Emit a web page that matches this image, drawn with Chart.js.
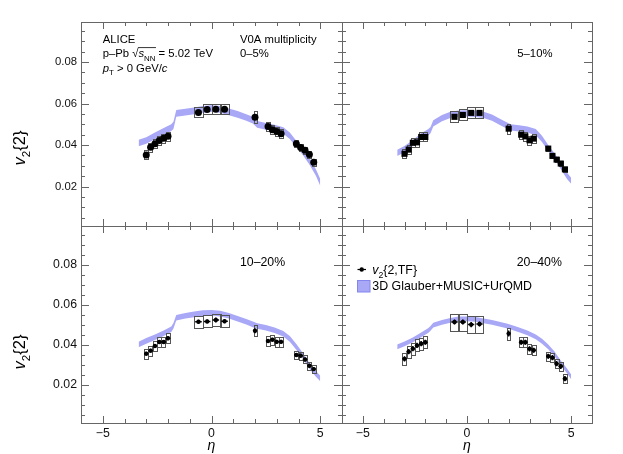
<!DOCTYPE html>
<html lang="en">
<head>
<meta charset="UTF-8" />
<title>v2{2} vs eta, p-Pb 5.02 TeV</title>
<script src="https://cdn.jsdelivr.net/npm/chart.js"></script>
<style>
    body { margin: 0; background: #fff; }
    #wrap { position: relative; width: 623px; height: 454px; }
    #wrap canvas { position: absolute; left: 0; top: 0; }
</style>
</head>
<body>
<div id="wrap">
    <canvas id="c010" width="623" height="454"></canvas>
    <canvas id="c510" width="623" height="454"></canvas>
    <canvas id="c1020" width="623" height="454"></canvas>
    <canvas id="c2040" width="623" height="454"></canvas>
</div>

<script>
// ---- data ----
const xTicks = [-5, 0, 5];
const yTicks = [0.02, 0.04, 0.06, 0.08];

// measured points (FMD / TPC / SPD / FMD)
const eta    = [-3.0, -2.8, -2.6, -2.4, -2.2, -2.0, -0.6, -0.2, 0.2, 0.6, 2.0, 2.6, 2.8, 3.0, 3.2, 3.9, 4.1, 4.3, 4.5, 4.7];
const etaBin = [0.1, 0.1, 0.1, 0.1, 0.1, 0.1, 0.2, 0.2, 0.2, 0.2, 0.06, 0.1, 0.1, 0.1, 0.1, 0.1, 0.1, 0.1, 0.1, 0.1];
const etaErr = [0.1, 0.1, 0.1, 0.1, 0.1, 0.1, 0.15, 0.15, 0.15, 0.15, 0.06, 0.1, 0.1, 0.1, 0.1, 0.1, 0.1, 0.1, 0.1, 0.1];

const v2_0_5   = [0.0352, 0.0389, 0.0406, 0.0422, 0.0433, 0.0443, 0.0557, 0.0571, 0.0573, 0.0573, 0.0534, 0.0490, 0.0474, 0.0465, 0.0455, 0.0406, 0.0388, 0.0375, 0.0354, 0.0317];
const sys_0_5  = [0.0022, 0.0022, 0.0022, 0.0022, 0.0022, 0.0022, 0.0025, 0.0025, 0.0025, 0.0025, 0.0028, 0.0022, 0.0022, 0.0022, 0.0022, 0.0018, 0.0018, 0.0018, 0.0018, 0.0018];

const v2_5_10  = [0.0358, 0.0378, 0.0411, 0.0413, 0.0439, 0.0439, 0.0536, 0.0545, 0.0555, 0.0555, 0.0479, 0.0450, 0.0442, 0.0423, 0.0431, 0.0383, 0.0348, 0.0330, 0.0311, 0.0283];
const sys_5_10 = [0.0022, 0.0022, 0.0022, 0.0022, 0.0022, 0.0022, 0.0027, 0.0027, 0.0027, 0.0027, 0.0023, 0.0022, 0.0022, 0.0022, 0.0022, 0.0012, 0.0012, 0.0012, 0.0012, 0.0012];

const v2_10_20   = [0.0356, 0.0371, 0.0394, 0.0414, 0.0414, 0.0433, 0.0515, 0.0517, 0.0524, 0.0518, 0.0470, 0.0419, 0.0426, 0.0415, 0.0415, 0.0349, 0.0346, 0.0327, 0.0296, 0.0279];
const sys_10_20  = [0.0025, 0.0025, 0.0025, 0.0025, 0.0025, 0.0025, 0.0030, 0.0030, 0.0030, 0.0030, 0.0027, 0.0024, 0.0024, 0.0024, 0.0024, 0.0020, 0.0020, 0.0020, 0.0020, 0.0020];
const stat_10_20 = [0.0010, 0.0010, 0.0010, 0.0010, 0.0010, 0.0010, 0.0010, 0.0010, 0.0012, 0.0010, 0.0012, 0.0010, 0.0010, 0.0010, 0.0010, 0.0010, 0.0010, 0.0010, 0.0010, 0.0010];

const v2_20_40   = [0.0330, 0.0366, 0.0381, 0.0397, 0.0406, 0.0413, 0.0514, 0.0514, 0.0501, 0.0504, 0.0456, 0.0413, 0.0413, 0.0380, 0.0373, 0.0343, 0.0336, 0.0306, 0.0293, 0.0231];
const sys_20_40  = [0.0030, 0.0030, 0.0030, 0.0030, 0.0030, 0.0030, 0.0042, 0.0042, 0.0042, 0.0042, 0.0030, 0.0025, 0.0025, 0.0025, 0.0025, 0.0022, 0.0022, 0.0022, 0.0022, 0.0022];
const stat_20_40 = [0.0013, 0.0013, 0.0013, 0.0013, 0.0013, 0.0013, 0.0013, 0.0013, 0.0013, 0.0013, 0.0015, 0.0013, 0.0013, 0.0013, 0.0013, 0.0013, 0.0013, 0.0013, 0.0013, 0.0013];

// 3D Glauber+MUSIC+UrQMD band (lower / upper edge)
const bandEta = [-3.35, -3.0, -2.6, -2.2, -1.85, -1.75, -1.62, -1.2, -0.8, -0.4, 0, 0.4, 0.8, 1.2, 1.6, 1.9, 2.1, 2.5, 2.9, 3.3, 3.6, 3.9, 4.2, 4.5, 4.8, 5.0];
const bandLo_0_5   = [0.0394, 0.0406, 0.0428, 0.0450, 0.0468, 0.0478, 0.0537, 0.0543, 0.0549, 0.0556, 0.0560, 0.0556, 0.0544, 0.0532, 0.0517, 0.0504, 0.0484, 0.0474, 0.0466, 0.0454, 0.0429, 0.0389, 0.0352, 0.0306, 0.0252, 0.0204];
const bandHi_0_5   = [0.0426, 0.0438, 0.0460, 0.0482, 0.0500, 0.0512, 0.0569, 0.0575, 0.0581, 0.0588, 0.0592, 0.0588, 0.0576, 0.0564, 0.0549, 0.0536, 0.0516, 0.0506, 0.0498, 0.0486, 0.0461, 0.0421, 0.0384, 0.0338, 0.0284, 0.0236];
const bandLo_5_10  = [0.0347, 0.0365, 0.0395, 0.0427, 0.0447, 0.0457, 0.0490, 0.0515, 0.0530, 0.0537, 0.0538, 0.0535, 0.0530, 0.0517, 0.0495, 0.0480, 0.0470, 0.0465, 0.0460, 0.0447, 0.0415, 0.0370, 0.0330, 0.0285, 0.0237, 0.0213];
const bandHi_5_10  = [0.0377, 0.0395, 0.0425, 0.0457, 0.0477, 0.0487, 0.0520, 0.0545, 0.0560, 0.0567, 0.0568, 0.0565, 0.0560, 0.0547, 0.0525, 0.0510, 0.0500, 0.0495, 0.0490, 0.0477, 0.0445, 0.0400, 0.0360, 0.0315, 0.0267, 0.0243];
const bandLo_10_20 = [0.0388, 0.0406, 0.0424, 0.0444, 0.0464, 0.0481, 0.0521, 0.0531, 0.0538, 0.0544, 0.0546, 0.0542, 0.0531, 0.0516, 0.0501, 0.0488, 0.0480, 0.0471, 0.0459, 0.0441, 0.0416, 0.0376, 0.0331, 0.0281, 0.0241, 0.0218];
const bandHi_10_20 = [0.0416, 0.0434, 0.0452, 0.0472, 0.0492, 0.0509, 0.0549, 0.0559, 0.0566, 0.0572, 0.0574, 0.0570, 0.0559, 0.0544, 0.0529, 0.0516, 0.0508, 0.0499, 0.0487, 0.0469, 0.0444, 0.0404, 0.0359, 0.0309, 0.0269, 0.0246];
const bandLo_20_40 = [0.0378, 0.0393, 0.0413, 0.0438, 0.0460, 0.0470, 0.0486, 0.0500, 0.0510, 0.0518, 0.0518, 0.0515, 0.0508, 0.0500, 0.0490, 0.0483, 0.0476, 0.0463, 0.0448, 0.0428, 0.0406, 0.0378, 0.0343, 0.0298, 0.0258, 0.0228];
const bandHi_20_40 = [0.0402, 0.0417, 0.0437, 0.0462, 0.0484, 0.0494, 0.0510, 0.0524, 0.0534, 0.0542, 0.0542, 0.0539, 0.0532, 0.0524, 0.0514, 0.0507, 0.0500, 0.0487, 0.0472, 0.0452, 0.0430, 0.0402, 0.0367, 0.0322, 0.0282, 0.0252];

// ---- style ----
const FONT = '"Liberation Sans", Arial, Helvetica, sans-serif';
const AXIS = '#666';
const BAND = 'rgb(168,168,247)';
const Y_MIN = 0.001, Y_MAX = 0.0993;

// draw a run of text pieces: [text, flags] with 'i' italic, 's' subscript
function rich(ctx, x, y, parts, size, dry) {
    let cx = x;
    for (const [t, f] of parts) {
        const sub = f && f.includes('s');
        const it = f && f.includes('i');
        ctx.font = (it ? 'italic ' : '') + (sub ? size * 0.7 : size).toFixed(1) + 'px ' + FONT;
        if (!dry) ctx.fillText(t, cx, sub ? y + size * 0.3 : y);
        cx += ctx.measureText(t).width;
    }
    return cx;
}

function yTitle(ctx, cy) {
    const parts = [['v', 'i'], ['2', 's'], ['{2}']];
    ctx.save();
    ctx.translate(25, cy);
    ctx.rotate(-Math.PI / 2);
    const w = rich(ctx, 0, 0, parts, 16.5, true);
    rich(ctx, -w / 2, 0, parts, 16.5);
    ctx.restore();
}

function etaTitle(chart) {
    const ctx = chart.ctx;
    ctx.font = 'italic 14px ' + FONT;
    ctx.textAlign = 'center';
    ctx.fillText('\u03B7', chart.scales.x.getPixelForValue(0), 450);
    ctx.textAlign = 'left';
}

// frame with inward ticks on all four sides
const framePlugin = {
    id: 'frame',
    afterDraw(chart) {
        const { ctx, chartArea: a, scales: { x, y } } = chart;
        ctx.save();
        ctx.strokeStyle = AXIS;
        ctx.lineWidth = 1;
        ctx.strokeRect(a.left + 0.5, a.top + 0.5, a.right - a.left, a.bottom - a.top);
        ctx.beginPath();
        for (let t = -6; t <= 6; t++) {
            const px = Math.round(x.getPixelForValue(t)) + 0.5;
            const len = xTicks.includes(t) ? 7 : 4;
            ctx.moveTo(px, a.bottom); ctx.lineTo(px, a.bottom - len);
            ctx.moveTo(px, a.top); ctx.lineTo(px, a.top + len);
        }
        for (let k = 1; k <= 19; k++) {
            const v = k * 0.005;
            const py = Math.round(y.getPixelForValue(v)) + 0.5;
            const len = yTicks.some(t => Math.abs(t - v) < 1e-6) ? 8 : 4;
            ctx.moveTo(a.left, py); ctx.lineTo(a.left + len, py);
            ctx.moveTo(a.right, py); ctx.lineTo(a.right - len, py);
        }
        ctx.stroke();
        ctx.restore();
    }
};

// systematic boxes and statistical bars, drawn just before the markers
function errorPlugin(p) {
    return {
        id: 'errors',
        beforeDatasetDraw(chart, args) {
            if (args.index !== 0) return;
            const { ctx, scales: { x, y } } = chart;
            ctx.save();
            ctx.strokeStyle = '#555';
            ctx.lineWidth = 1;
            eta.forEach((e, i) => {
                const x0 = x.getPixelForValue(e - etaBin[i]), x1 = x.getPixelForValue(e + etaBin[i]);
                const y0 = y.getPixelForValue(p.v2[i] + p.sys[i]), y1 = y.getPixelForValue(p.v2[i] - p.sys[i]);
                ctx.strokeRect(Math.round(x0) + 0.5, Math.round(y0) + 0.5, Math.round(x1 - x0), Math.round(y1 - y0));
            });
            if (p.stat) {
                ctx.strokeStyle = '#000';
                ctx.lineWidth = 1.5;
                ctx.beginPath();
                eta.forEach((e, i) => {
                    const px = x.getPixelForValue(e), py = y.getPixelForValue(p.v2[i]);
                    ctx.moveTo(x.getPixelForValue(e - etaErr[i]), py);
                    ctx.lineTo(x.getPixelForValue(e + etaErr[i]), py);
                    ctx.moveTo(px, y.getPixelForValue(p.v2[i] + p.stat[i]));
                    ctx.lineTo(px, y.getPixelForValue(p.v2[i] - p.stat[i]));
                });
                ctx.stroke();
            }
            ctx.restore();
        }
    };
}

function textPlugin(fn) {
    return {
        id: 'texts',
        afterDraw(chart) {
            const ctx = chart.ctx;
            ctx.save();
            ctx.fillStyle = '#000';
            ctx.textBaseline = 'alphabetic';
            fn(ctx, chart);
            ctx.restore();
        }
    };
}

function makePanel(id, p) {
    const tickFont = { family: FONT, size: p.fs };
    new Chart(document.getElementById(id), {
        type: 'scatter',
        data: {
            datasets: [
                {
                    data: eta.map((e, i) => ({ x: e, y: p.v2[i] })),
                    pointStyle: p.marker, pointRadius: p.r, pointHoverRadius: p.r,
                    pointBackgroundColor: '#000', pointBorderWidth: 0, order: 0
                },
                {
                    type: 'line', data: bandEta.map((e, i) => ({ x: e, y: p.lo[i] })),
                    borderColor: 'rgba(0,0,0,0)', borderWidth: 0, pointRadius: 0, fill: false, order: 2
                },
                {
                    type: 'line', data: bandEta.map((e, i) => ({ x: e, y: p.hi[i] })),
                    borderColor: 'rgba(0,0,0,0)', borderWidth: 0, pointRadius: 0,
                    fill: '-1', backgroundColor: BAND, order: 1
                }
            ]
        },
        options: {
            responsive: false,
            animation: false,
            events: [],
            layout: { padding: p.pad },
            plugins: { legend: { display: false }, tooltip: { enabled: false } },
            scales: {
                x: {
                    type: 'linear', min: -6, max: 6, display: p.bottom,
                    afterFit: s => { if (p.bottom) s.height = 31; },
                    afterBuildTicks: s => { s.ticks = xTicks.map(v => ({ value: v })); },
                    grid: { display: false, drawTicks: false }, border: { display: false },
                    ticks: {
                        padding: 3, color: '#111', font: tickFont, maxRotation: 0, autoSkip: false,
                        callback: v => v < 0 ? '\u2212' + Math.abs(v) : String(v)
                    }
                },
                y: {
                    type: 'linear', min: Y_MIN, max: Y_MAX, display: p.left,
                    afterFit: s => { if (p.left) s.width = 81; },
                    afterBuildTicks: s => { s.ticks = yTicks.map(v => ({ value: v })); },
                    grid: { display: false, drawTicks: false }, border: { display: false },
                    ticks: { padding: 4, color: '#111', font: tickFont, callback: v => v.toFixed(2) }
                }
            }
        },
        plugins: [errorPlugin(p), framePlugin, textPlugin(p.text)]
    });
}

makePanel('c010', {
    v2: v2_0_5, sys: sys_0_5, lo: bandLo_0_5, hi: bandHi_0_5,
    marker: 'circle', r: 3.5, fs: 11.3, left: true, bottom: false,
    pad: { left: 0, top: 22, right: 281, bottom: 228 },
    text(ctx) {
        const s = 11.3;
        ctx.font = s + 'px ' + FONT;
        ctx.fillText('ALICE', 102.7, 43.3);
        let cx = rich(ctx, 102.7, 57.3, [['p\u2013Pb ']], s);
        cx = rich(ctx, cx, 57.3, [['\u221A']], s);
        const ox = cx;
        cx = rich(ctx, cx, 57.3, [['s', 'i'], ['NN', 's']], s);
        ctx.strokeStyle = '#000'; ctx.lineWidth = 0.8;
        ctx.beginPath(); ctx.moveTo(ox - 0.5, 57.3 - s * 0.86); ctx.lineTo(cx + 0.5, 57.3 - s * 0.86); ctx.stroke();
        rich(ctx, cx, 57.3, [[' = 5.02 TeV']], s);
        rich(ctx, 102.7, 71.7, [['p', 'i'], ['T', 's'], [' > 0 GeV/'], ['c', 'i']], s);
        ctx.font = s + 'px ' + FONT;
        ctx.fillText('V0A multiplicity', 240, 43.3);
        ctx.fillText('0\u20135%', 240, 57.3);
        yTitle(ctx, 148);
    }
});

makePanel('c510', {
    v2: v2_5_10, sys: sys_5_10, lo: bandLo_5_10, hi: bandHi_5_10,
    marker: 'rect', r: 4.3, fs: 11.3, left: false, bottom: false,
    pad: { left: 342, top: 22, right: 31, bottom: 228 },
    text(ctx) {
        ctx.font = '11.3px ' + FONT;
        ctx.fillText('5\u201310%', 517.3, 57.3);
    }
});

makePanel('c1020', {
    v2: v2_10_20, sys: sys_10_20, stat: stat_10_20, lo: bandLo_10_20, hi: bandHi_10_20,
    marker: 'circle', r: 2.2, fs: 12.3, left: true, bottom: true,
    pad: { left: 0, top: 226, right: 281, bottom: 0 },
    text(ctx, chart) {
        ctx.font = '12.3px ' + FONT;
        ctx.fillText('10\u201320%', 240, 266);
        yTitle(ctx, 352);
        etaTitle(chart);
    }
});

makePanel('c2040', {
    v2: v2_20_40, sys: sys_20_40, stat: stat_20_40, lo: bandLo_20_40, hi: bandHi_20_40,
    marker: 'circle', r: 2.2, fs: 12.3, left: false, bottom: true,
    pad: { left: 342, top: 226, right: 31, bottom: 0 },
    text(ctx, chart) {
        ctx.font = '12.3px ' + FONT;
        ctx.fillText('20\u201340%', 516.7, 265.7);
        // legend
        ctx.strokeStyle = '#000'; ctx.lineWidth = 1.2;
        ctx.beginPath(); ctx.moveTo(357.5, 269.5); ctx.lineTo(366, 269.5); ctx.stroke();
        ctx.beginPath(); ctx.arc(361.7, 269.5, 2.2, 0, Math.PI * 2); ctx.fill();
        rich(ctx, 372.3, 273.8, [['v', 'i'], ['2', 's'], ['{2,TF}']], 12.4);
        ctx.fillStyle = BAND;
        ctx.fillRect(357.5, 280.5, 12.5, 11.5);
        ctx.strokeStyle = '#8585ee'; ctx.lineWidth = 1;
        ctx.strokeRect(357.5, 280.5, 12.5, 11.5);
        ctx.fillStyle = '#000';
        ctx.font = '12.4px ' + FONT;
        ctx.fillText('3D Glauber+MUSIC+UrQMD', 372.3, 290.3);
        etaTitle(chart);
    }
});
</script>
</body>
</html>
